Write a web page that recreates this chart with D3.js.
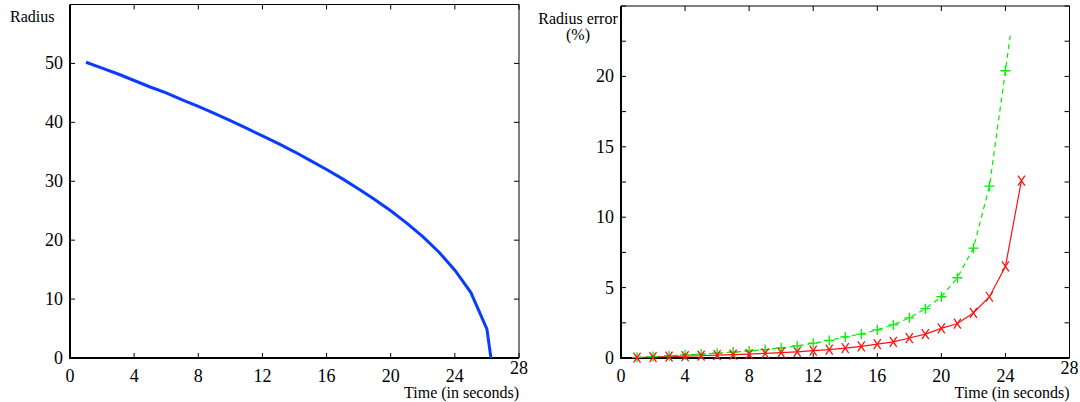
<!DOCTYPE html>
<html>
<head>
<meta charset="utf-8">
<script src="https://cdn.jsdelivr.net/npm/d3@7.9.0/dist/d3.min.js"></script>
<style>
  body { margin: 0; background: #fff; }
</style>
</head>
<body>
<svg id="chart" width="1080" height="402"></svg>
<script>
// radius of the shrinking circle
const timeRadius = [1, 2, 3, 4, 5, 6, 7, 8, 9, 10, 11, 12, 13, 14, 15, 16, 17, 18, 19, 20, 21, 22, 23, 24, 25, 26, 26.25];
const radius = [50.2, 49.2, 48.2, 47.1, 46.0, 45.0, 43.8, 42.7, 41.5, 40.3, 39.0, 37.7, 36.4, 35.0, 33.5, 32.0, 30.4, 28.7, 26.9, 25.0, 22.9, 20.6, 18.0, 14.9, 11.1, 4.9, 0];

// radius error (%) of the two estimates, right plot
const timeGreen = [1, 2, 3, 4, 5, 6, 7, 8, 9, 10, 11, 12, 13, 14, 15, 16, 17, 18, 19, 20, 21, 22, 23, 24, 24.3];
const errGreen = [0.05, 0.1, 0.16, 0.22, 0.28, 0.34, 0.42, 0.5, 0.6, 0.72, 0.86, 1.05, 1.25, 1.5, 1.7, 2.0, 2.35, 2.85, 3.5, 4.35, 5.7, 7.8, 12.2, 20.4, 22.9];
const greenMarked = 24; // last point has no marker
const timeRed = [1, 2, 3, 4, 5, 6, 7, 8, 9, 10, 11, 12, 13, 14, 15, 16, 17, 18, 19, 20, 21, 22, 23, 24, 25];
const errRed = [0.03, 0.07, 0.1, 0.13, 0.16, 0.2, 0.24, 0.28, 0.33, 0.38, 0.44, 0.52, 0.6, 0.7, 0.82, 0.98, 1.15, 1.42, 1.7, 2.1, 2.45, 3.2, 4.35, 6.5, 12.6];

const xTicks = [0, 4, 8, 12, 16, 20, 24, 28];
const yTicksLeft = [0, 10, 20, 30, 40, 50, 60];
const yLabelsLeft = [0, 10, 20, 30, 40, 50];
const yTicksRight = d3.range(0, 25.01, 2.5);
const yLabelsRight = [0, 5, 10, 15, 20];

const FONT = '"Liberation Serif"';
const svg = d3.select('#chart');

// draw one boxed panel, returns its scales
function panel(x0, x1, yTop, yMax, yTicks, yLabels) {
  const x = d3.scaleLinear().domain([0, 28]).range([x0, x1]);
  const y = d3.scaleLinear().domain([0, yMax]).range([358, yTop]);
  const g = svg.append('g');

  // thin top / right frame
  g.append('line').attr('x1', x0).attr('x2', x1).attr('y1', yTop).attr('y2', yTop)
    .attr('stroke', '#000').attr('stroke-width', 1);
  g.append('line').attr('x1', x1).attr('x2', x1).attr('y1', yTop).attr('y2', 358)
    .attr('stroke', '#000').attr('stroke-width', 1);

  // inward ticks on every side
  xTicks.forEach(t => {
    g.append('line').attr('x1', x(t)).attr('x2', x(t)).attr('y1', 358).attr('y2', 353).attr('stroke', '#000');
    g.append('line').attr('x1', x(t)).attr('x2', x(t)).attr('y1', yTop).attr('y2', yTop + 5).attr('stroke', '#000');
  });
  yTicks.forEach(t => {
    g.append('line').attr('x1', x0).attr('x2', x0 + 5).attr('y1', y(t)).attr('y2', y(t)).attr('stroke', '#000');
    g.append('line').attr('x1', x1).attr('x2', x1 - 5).attr('y1', y(t)).attr('y2', y(t)).attr('stroke', '#000');
  });

  // thick bottom / left axis lines
  g.append('line').attr('x1', x0).attr('x2', x1).attr('y1', 358).attr('y2', 358)
    .attr('stroke', '#000').attr('stroke-width', 2);
  g.append('line').attr('x1', x0).attr('x2', x0).attr('y1', yTop).attr('y2', 359)
    .attr('stroke', '#000').attr('stroke-width', 2);

  // tick labels
  g.selectAll('.xl').data(xTicks).join('text')
    .attr('x', d => x(d)).attr('y', d => d === 28 ? 374 : 382)
    .attr('text-anchor', 'middle')
    .style('font-family', FONT).style('font-size', '18px').text(d => d);
  g.selectAll('.yl').data(yLabels).join('text')
    .attr('x', x0 - 7).attr('y', d => y(d) + 6)
    .attr('text-anchor', 'end')
    .style('font-family', FONT).style('font-size', '18px').text(d => d);

  g.append('text').attr('x', x1).attr('y', 398).attr('text-anchor', 'end')
    .style('font-family', FONT).style('font-size', '16px').text('Time (in seconds)');
  return { x, y };
}

// left: radius vs time
const L = panel(70, 519, 4.5, 60, yTicksLeft, yLabelsLeft);
svg.append('text').attr('x', 10).attr('y', 22)
  .style('font-family', FONT).style('font-size', '16px').text('Radius');
svg.append('path')
  .datum(timeRadius.map((t, i) => [t, radius[i]]))
  .attr('fill', 'none').attr('stroke', '#0a3cff').attr('stroke-width', 3)
  .attr('d', d3.line().x(d => L.x(d[0])).y(d => L.y(d[1])));

// right: radius error vs time
const R = panel(621, 1069.5, 6, 25, yTicksRight, yLabelsRight);
svg.append('text').attr('x', 578).attr('y', 24).attr('text-anchor', 'middle')
  .style('font-family', FONT).style('font-size', '16px').text('Radius error');
svg.append('text').attr('x', 578).attr('y', 40).attr('text-anchor', 'middle')
  .style('font-family', FONT).style('font-size', '16px').text('(%)');

const green = timeGreen.map((t, i) => [t, errGreen[i]]);
const red = timeRed.map((t, i) => [t, errRed[i]]);
const line = d3.line().x(d => R.x(d[0])).y(d => R.y(d[1]));

svg.append('path').datum(green)
  .attr('fill', 'none').attr('stroke', '#00ee00').attr('stroke-width', 1.2)
  .attr('stroke-dasharray', '5,4').attr('d', line);
svg.append('path').datum(red)
  .attr('fill', 'none').attr('stroke', '#ff1010').attr('stroke-width', 1.2).attr('d', line);

svg.selectAll('.plus').data(green.slice(0, greenMarked)).join('path')
  .attr('transform', d => `translate(${R.x(d[0])},${R.y(d[1])})`)
  .attr('d', 'M-5,0H5M0,-5V5').attr('stroke', '#00ee00').attr('stroke-width', 1.3);
svg.selectAll('.cross').data(red).join('path')
  .attr('transform', d => `translate(${R.x(d[0])},${R.y(d[1])})`)
  .attr('d', 'M-3.5,-5L3.5,5M-3.5,5L3.5,-5').attr('stroke', '#ff1010').attr('stroke-width', 1.3);
</script>
</body>
</html>
